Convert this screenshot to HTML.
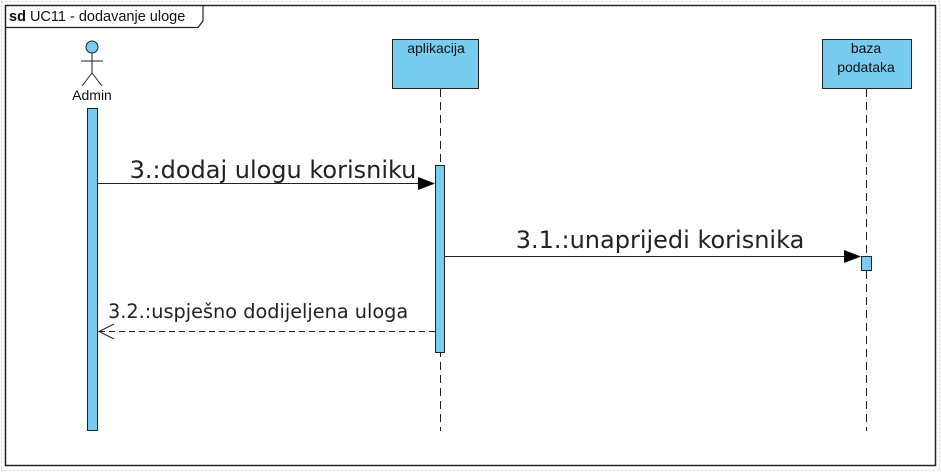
<!DOCTYPE html>
<html><head><style>body{margin:0;background:#fff}svg{display:block}</style></head><body>
<svg width="941" height="472" xmlns="http://www.w3.org/2000/svg" font-family="Liberation Sans, sans-serif">
<rect x="1.5" y="1.5" width="938" height="469" fill="none" stroke="#c8d4e4" stroke-dasharray="2,2"/>
<rect x="5.5" y="5.5" width="930" height="460" fill="#fff" stroke="#222" stroke-width="1.5"/>
<path d="M5.5 27.5 H198 L203 21 V5.5" fill="none" stroke="#222" stroke-width="1.2"/>
<text x="9" y="21" font-size="14.5" fill="#111"><tspan font-weight="bold">sd</tspan> UC11 - dodavanje uloge</text>
<!-- actor -->
<circle cx="92" cy="47" r="6" fill="#77ccf0" stroke="#222"/>
<line x1="92" y1="53" x2="92" y2="73" stroke="#222"/>
<line x1="81" y1="61" x2="103" y2="61" stroke="#222"/>
<line x1="92" y1="73" x2="82" y2="86" stroke="#222"/>
<line x1="92" y1="73" x2="102" y2="86" stroke="#222"/>
<text x="92" y="100" font-size="14" text-anchor="middle" fill="#111">Admin</text>
<rect x="87.5" y="108.5" width="10" height="322" fill="#77ccf0" stroke="#222"/>
<!-- aplikacija -->
<rect x="392.5" y="39.5" width="86" height="49" fill="#77ccf0" stroke="#222"/>
<text x="436" y="53" font-size="14" text-anchor="middle" fill="#111">aplikacija</text>
<line x1="440.5" y1="89" x2="440.5" y2="431" stroke="#222" stroke-dasharray="8,5"/>
<rect x="435.5" y="165.5" width="9" height="187" fill="#77ccf0" stroke="#222"/>
<!-- baza -->
<rect x="822.5" y="39.5" width="89" height="49" fill="#77ccf0" stroke="#222"/>
<text x="866" y="53" font-size="14" text-anchor="middle" fill="#111">baza</text>
<text x="866" y="72" font-size="14" text-anchor="middle" fill="#111">podataka</text>
<line x1="866.5" y1="89" x2="866.5" y2="431" stroke="#222" stroke-dasharray="8,5"/>
<rect x="861.5" y="256.5" width="10" height="14" fill="#77ccf0" stroke="#222"/>
<!-- msg 1 -->
<line x1="98" y1="183.5" x2="420" y2="183.5" stroke="#222"/>
<polygon points="418,177 435,183.5 418,190" fill="#000"/>
<text x="273" y="178" font-size="24" text-anchor="middle" fill="#222" font-family="DejaVu Sans, sans-serif">3.:dodaj ulogu korisniku</text>
<!-- msg 2 -->
<line x1="445" y1="256.5" x2="846" y2="256.5" stroke="#222"/>
<polygon points="844,250 861,256.5 844,263" fill="#000"/>
<text x="660" y="248" font-size="24" text-anchor="middle" fill="#222" font-family="DejaVu Sans, sans-serif">3.1.:unaprijedi korisnika</text>
<!-- return -->
<line x1="435" y1="331.5" x2="99" y2="331.5" stroke="#222" stroke-dasharray="6,4"/>
<polyline points="114,324 99,331.5 114,339" fill="none" stroke="#222"/>
<text x="108" y="318" font-size="19.3" fill="#222" font-family="DejaVu Sans, sans-serif">3.2.:uspješno dodijeljena uloga</text>
</svg>
</body></html>
